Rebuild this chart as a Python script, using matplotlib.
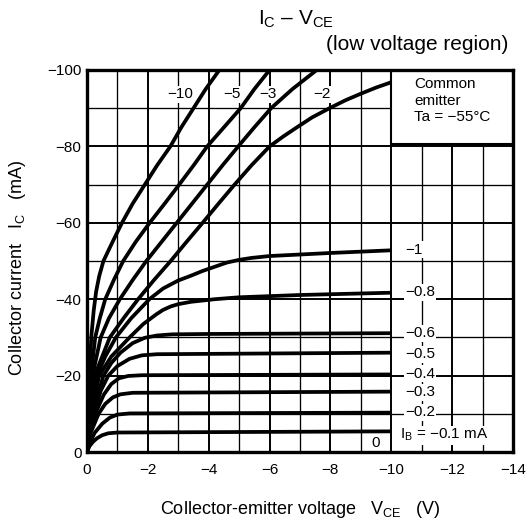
import matplotlib
matplotlib.use("Agg")
import matplotlib.pyplot as plt
from matplotlib.patches import Rectangle
from matplotlib.ticker import MultipleLocator

plt.rcParams['font.family'] = ['Liberation Sans', 'DejaVu Sans']
plt.rcParams['mathtext.fontset'] = 'custom'
plt.rcParams['mathtext.rm'] = 'Liberation Sans'
plt.rcParams['mathtext.it'] = 'Liberation Sans:italic'
plt.rcParams['mathtext.bf'] = 'Liberation Sans:bold'

# ---- data (V_CE in V, I_C in mA), one curve per base current I_B ----
vce_ib10 = [0, -0.02, -0.04, -0.08, -0.14, -0.22, -0.3, -0.4, -0.54, -0.84, -1.15, -1.5, -1.9, -2.3, -2.74, -3.1, -3.5, -3.9, -4.35]
ic_ib10 = [0, -5, -10, -20, -30, -37, -42, -46, -50, -55, -60, -65, -70, -75, -80, -85, -90, -95, -100]

vce_ib5 = [0, -0.025, -0.05, -0.13, -0.27, -0.42, -0.6, -0.88, -1.19, -1.6, -2.06, -2.55, -3.03, -3.5, -3.95, -4.5, -5.05, -5.5, -6.0]
ic_ib5 = [0, -5, -10, -20, -30, -35, -40, -45, -50, -55, -60, -65, -70, -75, -80, -85, -90, -95, -100]

vce_ib3 = [0, -0.03, -0.07, -0.18, -0.45, -0.72, -1.08, -1.5, -1.95, -2.45, -2.95, -3.45, -3.95, -4.45, -4.97, -5.5, -6.05, -6.75, -7.55]
ic_ib3 = [0, -5, -10, -20, -30, -35, -40, -45, -50, -55, -60, -65, -70, -75, -80, -85, -90, -95, -100]

vce_ib2 = [0, -0.04, -0.09, -0.25, -0.75, -1.2, -1.68, -2.2, -2.75, -3.27, -3.8, -4.32, -4.85, -5.4, -6.0, -6.45, -6.9, -7.4, -7.97, -8.5, -9.0, -9.5, -10.0]
ic_ib2 = [0, -5, -10, -20, -30, -35, -40, -45, -50, -55, -60, -65, -70, -75, -80, -82.6, -85, -87.6, -90, -92.1, -93.8, -95.4, -96.8]

vce_ib1 = [0, -0.05, -0.12, -0.33, -0.6, -0.95, -1.45, -2.05, -2.5, -3.0, -3.4, -3.8, -4.2, -4.6, -5.0, -5.4, -6.0, -7.0, -8.0, -10.0]
ic_ib1 = [0, -5, -10, -20, -25, -30, -35, -40, -42.8, -44.9, -46.1, -47.4, -48.5, -49.6, -50.3, -50.8, -51.3, -51.7, -52.1, -52.8]

vce_ib08 = [0, -0.06, -0.14, -0.4, -0.8, -1.4, -1.85, -2.27, -2.5, -2.75, -3.0, -3.4, -4.2, -5.0, -7.0, -10.0]
ic_ib08 = [0, -5, -10, -20, -25, -30, -33.5, -36, -37.2, -38.1, -38.7, -39.3, -40.0, -40.5, -41.1, -41.7]

vce_ib06 = [0, -0.07, -0.18, -0.54, -0.8, -1.1, -1.5, -1.9, -2.3, -2.8, -4.0, -10.0]
ic_ib06 = [0, -5, -10, -20, -23.3, -26, -28.5, -29.9, -30.5, -30.8, -30.9, -31.1]

vce_ib05 = [0, -0.08, -0.22, -0.45, -0.7, -1.0, -1.4, -1.8, -2.3, -10.0]
ic_ib05 = [0, -5, -10, -16, -20, -22.5, -24.4, -25.3, -25.6, -26.0]

vce_ib04 = [0, -0.1, -0.27, -0.55, -0.8, -1.05, -1.35, -1.8, -10.0]
ic_ib04 = [0, -5, -10, -15, -17.8, -19.3, -19.9, -20.1, -20.3]

vce_ib03 = [0, -0.12, -0.38, -0.6, -0.85, -1.1, -1.5, -10.0]
ic_ib03 = [0, -5, -10, -12.6, -14.3, -15.1, -15.5, -15.8]

vce_ib02 = [0, -0.1, -0.25, -0.5, -0.75, -1.0, -1.4, -10.0]
ic_ib02 = [0, -2.5, -5, -7.4, -9.0, -9.8, -10.1, -10.3]

vce_ib01 = [0, -0.08, -0.2, -0.33, -0.5, -0.7, -1.0, -10.0]
ic_ib01 = [0, -1.5, -2.7, -3.6, -4.4, -4.9, -5.1, -5.4]

# curve labels at the top (I_B in mA) and their anchor (V, I)
top_labels = ["\u221210", "\u22125", "\u22123", "\u22122"]
top_label_v = [-3.05, -4.75, -5.95, -7.72]
top_label_i = [-93.6, -93.6, -93.6, -93.6]

# curve labels at the right side
right_labels = ["\u22121", "\u22120.8", "\u22120.6", "\u22120.5", "\u22120.4", "\u22120.3", "\u22120.2"]
right_label_i = [-53.0, -41.8, -31.1, -25.6, -20.5, -15.6, -10.4]

xticks = [0, -2, -4, -6, -8, -10, -12, -14]
yticks = [0, -20, -40, -60, -80, -100]

curves = [
    (vce_ib10, ic_ib10), (vce_ib5, ic_ib5), (vce_ib3, ic_ib3), (vce_ib2, ic_ib2),
    (vce_ib1, ic_ib1), (vce_ib08, ic_ib08), (vce_ib06, ic_ib06), (vce_ib05, ic_ib05),
    (vce_ib04, ic_ib04), (vce_ib03, ic_ib03), (vce_ib02, ic_ib02), (vce_ib01, ic_ib01),
]

fig = plt.figure(figsize=(5.29, 5.24), dpi=100)
ax = fig.add_axes([87 / 529, 1 - 452 / 524, (513 - 87) / 529, (452 - 70) / 524])

ax.set_xlim(0, -14)
ax.set_ylim(0, -100)
ax.set_xticks(xticks)
ax.set_yticks(yticks)
ax.xaxis.set_minor_locator(MultipleLocator(1))
ax.yaxis.set_minor_locator(MultipleLocator(10))
ax.grid(which='major', color='black', lw=1.4, zorder=0.5)
ax.grid(which='minor', color='black', lw=0.95, zorder=0.5)
ax.set_axisbelow(True)
ax.tick_params(which='both', length=0, labelsize=11)
ax.tick_params(axis='x', pad=8)
ax.tick_params(axis='y', pad=4)
for s in ax.spines.values():
    s.set_linewidth(2.4)
    s.set_zorder(5)

for v, i in curves:
    ax.plot(v, i, color='black', lw=2.7, solid_capstyle='butt', solid_joinstyle='round', zorder=3)

box = dict(facecolor='white', edgecolor='none', pad=1.0)
for t, v, i in zip(top_labels, top_label_v, top_label_i):
    ax.text(v, i, t, fontsize=11, ha='center', va='center', bbox=box, zorder=2)

for t, i in zip(right_labels, right_label_i):
    ax.text(-10.45, i, t, fontsize=11, ha='left', va='center', bbox=box, zorder=2)
ax.text(-10.27, -4.4, "$\\mathrm{I_B}$ = \u22120.1 mA",
        fontsize=11, ha='left', va='center', bbox=box, zorder=2)
ax.text(-9.47, -2.4, "0", fontsize=11, ha='center', va='center', bbox=box, zorder=2)

# inset condition box
ax.add_patch(Rectangle((-10, -80.6), -4, -19.4, facecolor='white', edgecolor='black',
                       lw=1.5, zorder=4))
ax.text(-10.75, -98.2, "Common\nemitter\nTa = \u221255\u00b0C", fontsize=11, ha='left',
        va='top', linespacing=1.25, zorder=4.5)

fig.text(296 / 529, 1 - 19 / 524, "$\\mathrm{I_C}$ \u2013 $\\mathrm{V_{CE}}$",
         fontsize=15, ha='center', va='center')
fig.text(508 / 529, 1 - 45 / 524, "(low voltage region)", fontsize=15, ha='right', va='center')

fig.text(300 / 529, 1 - 510 / 524, r"Collector-emitter voltage   $\mathrm{V_{CE}}$   (V)",
         fontsize=13, ha='center', va='center')
fig.text(18 / 529, 1 - 268 / 524, r"Collector current   $\mathrm{I_C}$   (mA)",
         fontsize=13, ha='center', va='center', rotation=90)

fig.savefig("out.png", dpi=100)
